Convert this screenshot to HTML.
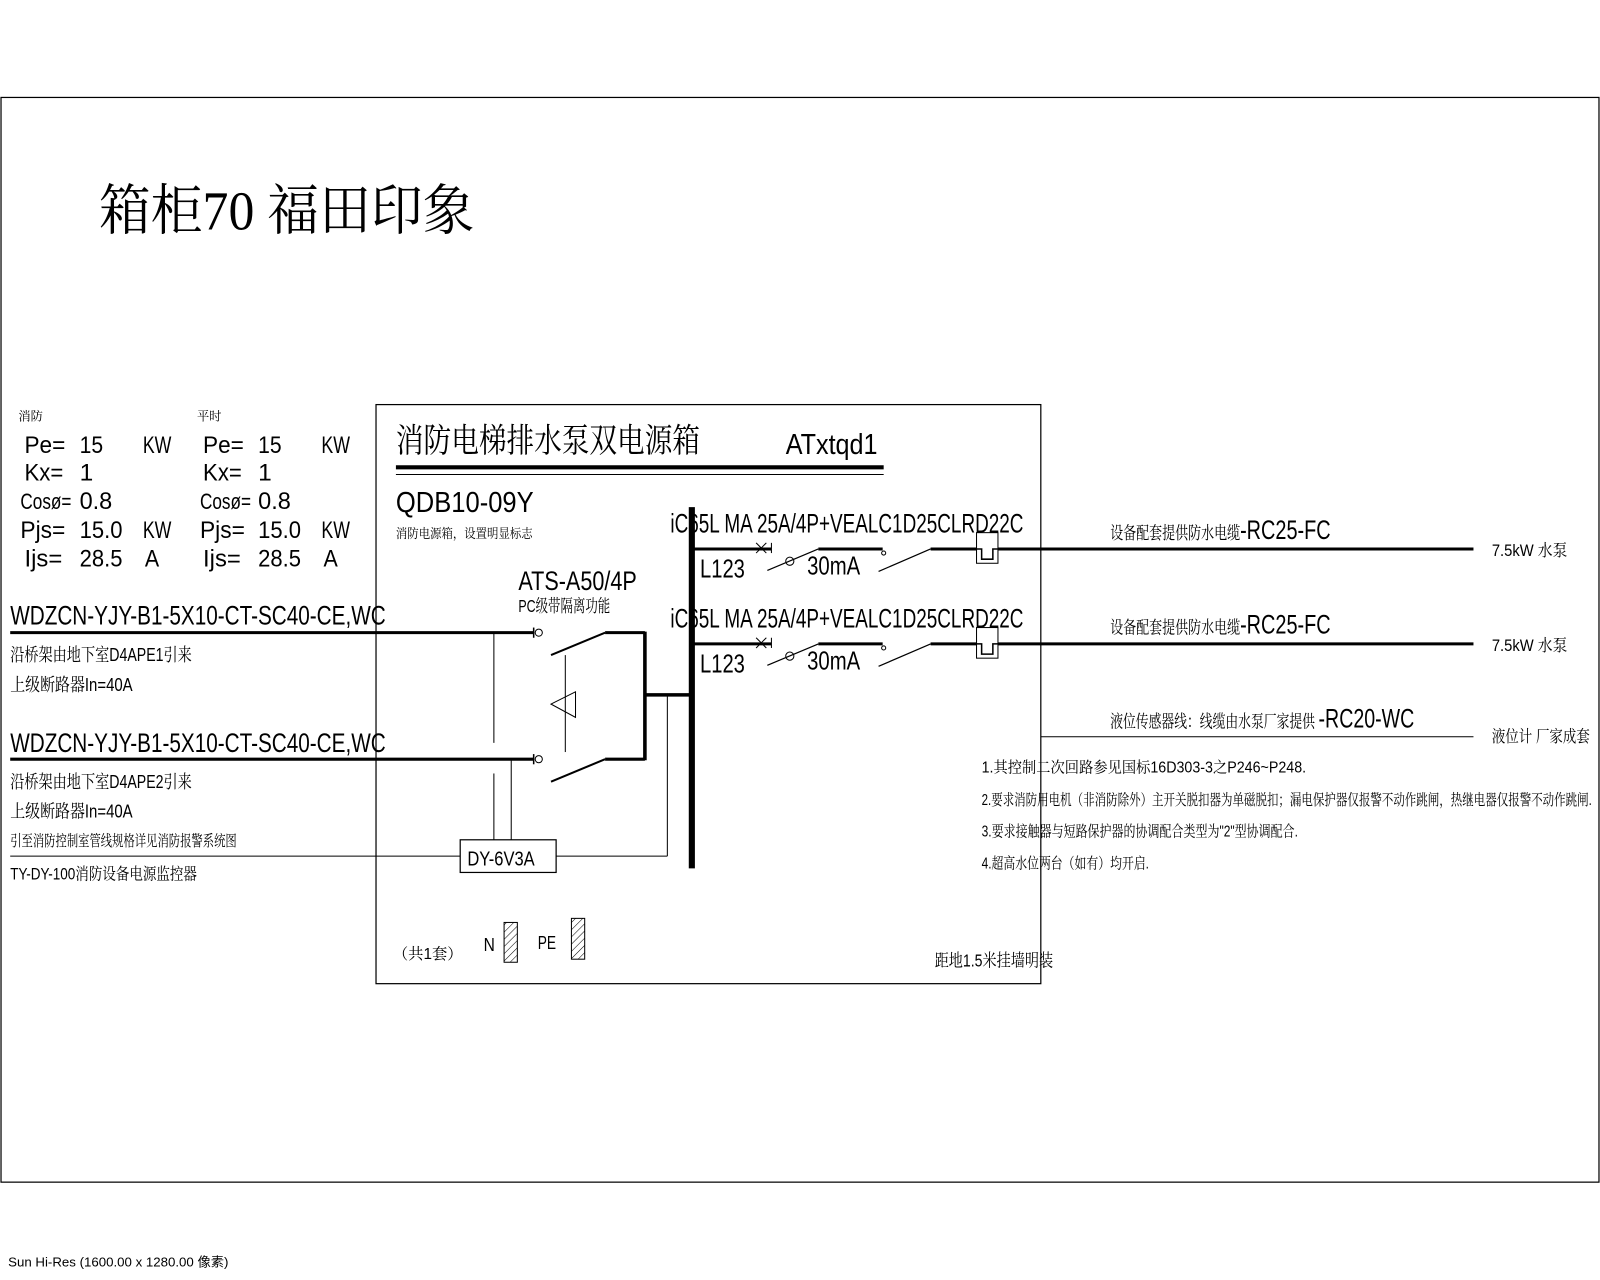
<!DOCTYPE html>
<html><head><meta charset="utf-8"><style>
html,body{margin:0;padding:0;background:#fff;}
svg{display:block}
text{font-family:"Liberation Sans Narrow","Liberation Sans","Noto Sans CJK SC",sans-serif;fill:#000}
.s{font-family:"Liberation Sans Narrow","Liberation Sans","Noto Serif CJK SC",serif}
</style></head><body>
<svg width="1600" height="1280" viewBox="0 0 1568 1254.4" xmlns="http://www.w3.org/2000/svg">
<rect x="0" y="0" width="1568" height="1255" fill="#fff"/>
<rect x="1" y="95.5" width="1566" height="1063" fill="none" stroke="#000" stroke-width="1.2"/>
<text x="97" y="225" font-size="54" style="font-family:'Liberation Serif','Noto Serif CJK SC',serif" textLength="368" lengthAdjust="spacingAndGlyphs">箱柜70 福田印象</text>

<rect x="368.5" y="396.5" width="651.5" height="567.5" fill="none" stroke="#000" stroke-width="1.2"/>
<text x="388" y="443" font-size="33" class="s" textLength="298" lengthAdjust="spacingAndGlyphs">消防电梯排水泵双电源箱</text>
<text x="770" y="445" font-size="28" textLength="90" lengthAdjust="spacingAndGlyphs">ATxtqd1</text>
<line x1="388" y1="458" x2="866" y2="458" stroke="#000" stroke-width="4"/>
<line x1="388" y1="465" x2="866" y2="465" stroke="#000" stroke-width="1"/>
<text x="388" y="502" font-size="28" textLength="135" lengthAdjust="spacingAndGlyphs">QDB10-09Y</text>
<text x="388" y="527" font-size="13" class="s" textLength="134" lengthAdjust="spacingAndGlyphs">消防电源箱，设置明显标志</text>

<g font-size="24" lengthAdjust="spacingAndGlyphs">
<text x="18" y="412" font-size="12" class="s">消防</text>
<text x="193" y="412" font-size="12" class="s">平时</text>
<text x="24" y="444" textLength="40" lengthAdjust="spacingAndGlyphs">Pe=</text><text x="78" y="444" textLength="23" lengthAdjust="spacingAndGlyphs">15</text><text x="140" y="444" textLength="28" lengthAdjust="spacingAndGlyphs">KW</text>
<text x="24" y="471" textLength="38" lengthAdjust="spacingAndGlyphs">Kx=</text><text x="78" y="471">1</text>
<text x="20" y="499" font-size="22" textLength="50" lengthAdjust="spacingAndGlyphs">Cosø=</text><text x="78" y="499" textLength="32" lengthAdjust="spacingAndGlyphs">0.8</text>
<text x="20" y="527" textLength="44" lengthAdjust="spacingAndGlyphs">Pjs=</text><text x="78" y="527" textLength="42" lengthAdjust="spacingAndGlyphs">15.0</text><text x="140" y="527" textLength="28" lengthAdjust="spacingAndGlyphs">KW</text>
<text x="24" y="555" textLength="37" lengthAdjust="spacingAndGlyphs">Ijs=</text><text x="78" y="555" textLength="42" lengthAdjust="spacingAndGlyphs">28.5</text><text x="142" y="555" textLength="14" lengthAdjust="spacingAndGlyphs">A</text>
<text x="199" y="444" textLength="40" lengthAdjust="spacingAndGlyphs">Pe=</text><text x="253" y="444" textLength="23" lengthAdjust="spacingAndGlyphs">15</text><text x="315" y="444" textLength="28" lengthAdjust="spacingAndGlyphs">KW</text>
<text x="199" y="471" textLength="38" lengthAdjust="spacingAndGlyphs">Kx=</text><text x="253" y="471">1</text>
<text x="196" y="499" font-size="22" textLength="50" lengthAdjust="spacingAndGlyphs">Cosø=</text><text x="253" y="499" textLength="32" lengthAdjust="spacingAndGlyphs">0.8</text>
<text x="196" y="527" textLength="44" lengthAdjust="spacingAndGlyphs">Pjs=</text><text x="253" y="527" textLength="42" lengthAdjust="spacingAndGlyphs">15.0</text><text x="315" y="527" textLength="28" lengthAdjust="spacingAndGlyphs">KW</text>
<text x="199" y="555" textLength="37" lengthAdjust="spacingAndGlyphs">Ijs=</text><text x="253" y="555" textLength="42" lengthAdjust="spacingAndGlyphs">28.5</text><text x="317" y="555" textLength="14" lengthAdjust="spacingAndGlyphs">A</text>
</g>

<text x="10" y="612" font-size="26" textLength="368" lengthAdjust="spacingAndGlyphs">WDZCN-YJY-B1-5X10-CT-SC40-CE,WC</text>
<line x1="10" y1="620" x2="523" y2="620" stroke="#000" stroke-width="3"/>
<text x="10" y="648" font-size="18" class="s" textLength="178" lengthAdjust="spacingAndGlyphs">沿桥架由地下室D4APE1引来</text>
<text x="10" y="677" font-size="18" class="s" textLength="120" lengthAdjust="spacingAndGlyphs">上级断路器In=40A</text>
<text x="10" y="737" font-size="26" textLength="368" lengthAdjust="spacingAndGlyphs">WDZCN-YJY-B1-5X10-CT-SC40-CE,WC</text>
<line x1="10" y1="744" x2="523" y2="744" stroke="#000" stroke-width="3"/>
<text x="10" y="772" font-size="18" class="s" textLength="178" lengthAdjust="spacingAndGlyphs">沿桥架由地下室D4APE2引来</text>
<text x="10" y="801" font-size="18" class="s" textLength="120" lengthAdjust="spacingAndGlyphs">上级断路器In=40A</text>
<text x="10" y="829" font-size="15" class="s" textLength="222" lengthAdjust="spacingAndGlyphs">引至消防控制室管线规格详见消防报警系统图</text>
<line x1="10" y1="839" x2="451" y2="839" stroke="#000" stroke-width="1"/>
<text x="10" y="862" font-size="16" class="s" textLength="183" lengthAdjust="spacingAndGlyphs">TY-DY-100消防设备电源监控器</text>

<text x="508" y="578" font-size="26" textLength="116" lengthAdjust="spacingAndGlyphs">ATS-A50/4P</text>
<text x="508" y="600" font-size="17" class="s" textLength="90" lengthAdjust="spacingAndGlyphs">PC级带隔离功能</text>
<g stroke="#000" fill="none">
<line x1="523" y1="615" x2="523" y2="625" stroke-width="1.5"/>
<circle cx="528" cy="620" r="3.5" stroke-width="1"/>
<line x1="540" y1="642" x2="593" y2="620" stroke-width="2"/>
<line x1="593" y1="620" x2="632" y2="620" stroke-width="3"/>
<line x1="523" y1="739" x2="523" y2="749" stroke-width="1.5"/>
<circle cx="528" cy="744" r="3.5" stroke-width="1"/>
<line x1="540" y1="766" x2="593" y2="744" stroke-width="2"/>
<line x1="593" y1="744" x2="632" y2="744" stroke-width="3"/>
<line x1="632" y1="619" x2="632" y2="745" stroke-width="3.5"/>
<line x1="554" y1="642" x2="554" y2="737" stroke-width="1"/>
<polygon points="540,690 564,678 564,703" stroke-width="1"/>
<line x1="484" y1="620" x2="484" y2="728" stroke-width="1"/>
<line x1="484" y1="758" x2="484" y2="823" stroke-width="1"/>
<line x1="501" y1="745" x2="501" y2="823" stroke-width="1"/>
<rect x="451" y="823" width="94" height="32" stroke-width="1.2"/>
<line x1="545" y1="839" x2="654" y2="839" stroke-width="1"/>
<line x1="654" y1="681" x2="654" y2="839" stroke-width="1"/>
<line x1="632" y1="681" x2="678" y2="681" stroke-width="3.5"/>
<line x1="678" y1="497" x2="678" y2="851" stroke-width="6"/>
</g>
<text x="458" y="848" font-size="20" textLength="66" lengthAdjust="spacingAndGlyphs">DY-6V3A</text>

<g id="br">
<text x="657" y="522" font-size="26" textLength="346" lengthAdjust="spacingAndGlyphs">iC65L MA 25A/4P+VEALC1D25CLRD22C</text>
<text x="686" y="566" font-size="25" textLength="44" lengthAdjust="spacingAndGlyphs">L123</text>
<text x="791" y="563" font-size="25" textLength="52" lengthAdjust="spacingAndGlyphs">30mA</text>
<g stroke="#000" fill="none">
<line x1="678" y1="538" x2="756" y2="538" stroke-width="3"/>
<line x1="741" y1="532" x2="751" y2="542" stroke-width="1"/>
<line x1="751" y1="532" x2="741" y2="542" stroke-width="1"/>
<line x1="756" y1="532" x2="756" y2="542" stroke-width="1"/>
<line x1="752" y1="559" x2="802" y2="538" stroke-width="1.2"/>
<circle cx="774" cy="550" r="4" stroke-width="1"/>
<line x1="802" y1="538" x2="865" y2="538" stroke-width="3"/>
<circle cx="866" cy="542" r="2" stroke-width="1"/>
<line x1="861" y1="560" x2="912" y2="538" stroke-width="1.2"/>
<line x1="912" y1="538" x2="1444" y2="538" stroke-width="3"/>
<rect x="957" y="522" width="21" height="30" stroke-width="1" fill="#fff"/>
<polyline points="957,538 962,538 962,548 973,548 973,538 978,538" stroke-width="1.5"/>
</g>
<text x="1088" y="528" font-size="26" textLength="216" lengthAdjust="spacingAndGlyphs"><tspan font-size="17" class="s">设备配套提供防水电缆</tspan>-RC25-FC</text>
<text x="1462" y="545" font-size="16" class="s" textLength="74" lengthAdjust="spacingAndGlyphs">7.5kW   水泵</text>
</g>
<use href="#br" y="93"/>

<line x1="1020" y1="722" x2="1444" y2="722" stroke="#000" stroke-width="1"/>
<text x="1088" y="713" font-size="26" textLength="298" lengthAdjust="spacingAndGlyphs"><tspan font-size="17" class="s">液位传感器线：线缆由水泵厂家提供 </tspan>-RC20-WC</text>
<text x="1462" y="727" font-size="16" class="s" textLength="96" lengthAdjust="spacingAndGlyphs">液位计   厂家成套</text>

<g font-size="15" class="s">
<text x="962" y="757" class="s" textLength="318" lengthAdjust="spacingAndGlyphs">1.其控制二次回路参见国标16D303-3之P246~P248.</text>
<text x="962" y="789" class="s" textLength="598" lengthAdjust="spacingAndGlyphs">2.要求消防用电机（非消防除外）主开关脱扣器为单磁脱扣；漏电保护器仅报警不动作跳闸，热继电器仅报警不动作跳闸.</text>
<text x="962" y="820" class="s" textLength="310" lengthAdjust="spacingAndGlyphs">3.要求接触器与短路保护器的协调配合类型为"2"型协调配合.</text>
<text x="962" y="851" class="s" textLength="164" lengthAdjust="spacingAndGlyphs">4.超高水位两台（如有）均开启.</text>
</g>
<text x="916" y="947" font-size="17" class="s" textLength="116" lengthAdjust="spacingAndGlyphs">距地1.5米挂墙明装</text>

<text x="385" y="940" font-size="15" class="s">（共1套）</text>
<text x="474" y="932" font-size="18" textLength="11" lengthAdjust="spacingAndGlyphs">N</text>
<text x="527" y="930" font-size="18" textLength="18" lengthAdjust="spacingAndGlyphs">PE</text>
<defs><pattern id="h" width="5" height="5" patternUnits="userSpaceOnUse" patternTransform="rotate(45)"><line x1="0" y1="0" x2="0" y2="5" stroke="#000" stroke-width="1"/></pattern></defs>
<rect x="494" y="904" width="13" height="39" fill="url(#h)" stroke="#000" stroke-width="1"/>
<rect x="560" y="900" width="13" height="40" fill="url(#h)" stroke="#000" stroke-width="1"/>

<text x="8" y="1241" font-size="13" style="font-family:'Liberation Sans','Noto Sans CJK SC',sans-serif">Sun Hi-Res (1600.00 x 1280.00 像素)</text>
</svg>
</body></html>
